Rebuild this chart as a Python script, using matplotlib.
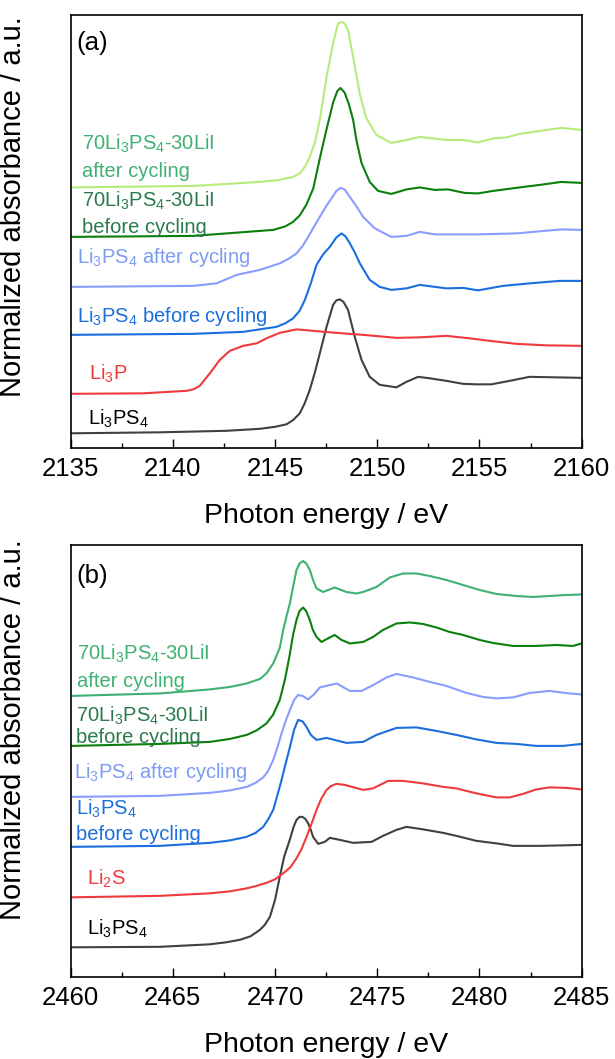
import matplotlib
matplotlib.use("Agg")
import matplotlib.pyplot as plt
from matplotlib.ticker import MultipleLocator

plt.rcParams.update({
    "font.family": ["Liberation Sans", "DejaVu Sans"],
    "mathtext.fontset": "custom",
    "mathtext.rm": "Liberation Sans",
    "mathtext.it": "Liberation Sans:italic",
    "mathtext.bf": "Liberation Sans:bold",
    "mathtext.default": "regular",
})

# ---------------- P K-edge XANES (panel a), offset spectra ----------------
p_li3ps4_E = [2135.0, 2139.37, 2142.63, 2144.26, 2145.0, 2145.56, 2145.9, 2146.21, 2146.45,
              2146.70, 2146.95, 2147.19, 2147.52, 2147.84, 2148.0, 2148.17, 2148.35, 2148.57,
              2148.90, 2149.23, 2149.63, 2150.12, 2150.94, 2151.43, 2152.0, 2152.57, 2153.38,
              2154.19, 2154.85, 2155.58, 2156.48, 2157.45, 2160.0]
p_li3ps4_A = [0.30, 0.32, 0.35, 0.39, 0.43, 0.48, 0.57, 0.70, 0.90,
              1.17, 1.52, 1.90, 2.43, 2.87, 2.96, 2.98, 2.93, 2.77,
              2.23, 1.77, 1.43, 1.27, 1.22, 1.33, 1.43, 1.40, 1.35,
              1.29, 1.28, 1.28, 1.35, 1.43, 1.41]

p_li3p_E = [2135.0, 2138.55, 2140.67, 2141.0, 2141.32, 2141.81, 2142.30, 2142.79, 2143.44,
            2144.10, 2144.58, 2145.23, 2146.05, 2146.86, 2148.01, 2149.31, 2150.94, 2152.08,
            2153.38, 2154.52, 2155.50, 2156.80, 2158.27, 2160.0]
p_li3p_A = [1.09, 1.10, 1.15, 1.18, 1.25, 1.50, 1.77, 1.95, 2.05,
            2.10, 2.20, 2.31, 2.38, 2.35, 2.31, 2.27, 2.21, 2.22,
            2.25, 2.20, 2.15, 2.09, 2.06, 2.05]

p_ps4_before_E = [2135.0, 2141.0, 2143.44, 2145.07, 2145.5, 2145.88, 2146.2, 2146.46, 2146.75,
                  2147.03, 2147.35, 2147.68, 2148.0, 2148.25, 2148.45, 2148.66, 2148.9, 2149.15,
                  2149.63, 2150.12, 2150.69, 2151.43, 2152.08, 2153.38, 2154.19, 2154.93, 2156.15,
                  2157.45, 2158.92, 2160.0]
p_ps4_before_A = [2.27, 2.29, 2.33, 2.43, 2.50, 2.60, 2.75, 2.97, 3.30,
                  3.67, 3.88, 4.03, 4.22, 4.30, 4.24, 4.10, 3.92, 3.70,
                  3.37, 3.23, 3.17, 3.20, 3.27, 3.20, 3.21, 3.16, 3.25,
                  3.30, 3.35, 3.35]

p_ps4_after_E = [2135.0, 2141.0, 2142.14, 2143.12, 2144.26, 2145.23, 2145.7, 2146.05, 2146.35,
                 2146.62, 2146.9, 2147.19, 2147.48, 2147.76, 2148.0, 2148.20, 2148.4, 2148.66,
                 2149.0, 2149.31, 2149.88, 2150.69, 2151.43, 2152.08, 2152.81, 2154.85, 2156.80,
                 2159.0, 2160.0]
p_ps4_after_A = [3.23, 3.25, 3.30, 3.47, 3.57, 3.70, 3.80, 3.90, 4.05,
                 4.23, 4.43, 4.63, 4.83, 5.00, 5.15, 5.21, 5.18, 5.03,
                 4.83, 4.63, 4.40, 4.23, 4.25, 4.33, 4.28, 4.28, 4.30,
                 4.38, 4.37]

p_lii_before_E = [2135.0, 2141.0, 2144.91, 2145.5, 2145.88, 2146.21, 2146.54, 2146.87, 2147.19,
                  2147.5, 2147.84, 2148.05, 2148.2, 2148.4, 2148.6, 2148.82, 2148.98, 2149.23,
                  2149.63, 2150.04, 2150.69, 2151.43, 2152.08, 2152.81, 2153.46, 2154.28, 2154.93,
                  2155.66, 2156.96, 2157.94, 2159.0, 2160.0]
p_lii_before_A = [4.23, 4.25, 4.37, 4.44, 4.53, 4.66, 4.88, 5.20, 5.80,
                  6.35, 6.92, 7.15, 7.21, 7.12, 6.90, 6.57, 6.17, 5.71,
                  5.33, 5.15, 5.09, 5.18, 5.22, 5.17, 5.18, 5.11, 5.10,
                  5.15, 5.22, 5.27, 5.33, 5.31]

p_lii_after_E = [2135.0, 2141.0, 2144.26, 2145.2, 2145.88, 2146.21, 2146.45, 2146.70, 2146.95,
                 2147.19, 2147.52, 2147.84, 2148.08, 2148.25, 2148.4, 2148.57, 2148.82, 2149.14,
                 2149.47, 2149.96, 2150.69, 2151.43, 2152.08, 2153.38, 2154.19, 2154.93, 2155.66,
                 2156.31, 2156.96, 2157.94, 2159.0, 2160.0]
p_lii_after_A = [5.22, 5.25, 5.33, 5.37, 5.43, 5.50, 5.63, 5.83, 6.12,
                 6.57, 7.43, 8.10, 8.50, 8.53, 8.50, 8.37, 7.83, 7.10,
                 6.60, 6.27, 6.11, 6.17, 6.23, 6.17, 6.17, 6.12, 6.20,
                 6.22, 6.29, 6.35, 6.41, 6.37]

# ---------------- S K-edge XANES (panel b), offset spectra ----------------
s_li3ps4_E = [2460.0, 2464.37, 2466.81, 2467.6, 2468.28, 2468.8, 2469.26, 2469.5, 2469.75,
              2470.0, 2470.23, 2470.45, 2470.72, 2470.9, 2471.05, 2471.2, 2471.34, 2471.48,
              2471.62, 2471.75, 2471.86, 2472.11, 2472.43, 2472.68, 2473.17, 2473.82, 2474.72,
              2475.28, 2475.94, 2476.43, 2477.24, 2478.22, 2478.87, 2479.85, 2480.83, 2481.64,
              2482.94, 2484.08, 2485.0]
s_li3ps4_A = [0.60, 0.61, 0.66, 0.70, 0.75, 0.82, 0.95, 1.05, 1.21,
              1.55, 2.01, 2.42, 2.75, 3.00, 3.15, 3.21, 3.21, 3.17,
              3.08, 2.95, 2.81, 2.67, 2.71, 2.79, 2.75, 2.69, 2.71,
              2.83, 2.95, 3.01, 2.96, 2.89, 2.83, 2.73, 2.68, 2.63,
              2.63, 2.64, 2.65]

s_li2s_E = [2460.0, 2464.37, 2466.81, 2467.8, 2468.61, 2469.1, 2469.58, 2470.0, 2470.40,
            2470.75, 2471.05, 2471.3, 2471.54, 2471.8, 2472.03, 2472.27, 2472.52, 2472.75,
            2473.01, 2473.41, 2474.31, 2474.79, 2475.53, 2476.26, 2477.24, 2478.22, 2478.87,
            2479.85, 2480.83, 2481.48, 2482.13, 2482.78, 2483.43, 2484.25, 2485.0]
s_li2s_A = [1.60, 1.63, 1.68, 1.72, 1.78, 1.83, 1.89, 1.96, 2.08,
            2.20, 2.38, 2.57, 2.81, 3.09, 3.35, 3.58, 3.75, 3.83,
            3.87, 3.85, 3.75, 3.78, 3.93, 3.93, 3.88, 3.81, 3.78,
            3.68, 3.60, 3.60, 3.67, 3.76, 3.80, 3.79, 3.76]

s_ps4_before_E = [2460.0, 2464.37, 2466.81, 2467.8, 2468.61, 2469.05, 2469.42, 2469.65, 2469.91,
                  2470.1, 2470.32, 2470.52, 2470.73, 2470.93, 2471.13, 2471.35, 2471.54, 2471.75,
                  2472.03, 2472.52, 2473.49, 2474.31, 2474.96, 2475.94, 2476.92, 2477.89, 2478.87,
                  2479.85, 2480.83, 2481.80, 2482.78, 2484.08, 2485.0]
s_ps4_before_A = [2.61, 2.63, 2.69, 2.74, 2.81, 2.89, 3.01, 3.15, 3.35,
                  3.62, 3.95, 4.28, 4.61, 4.95, 5.15, 5.12, 5.01, 4.85,
                  4.75, 4.79, 4.69, 4.71, 4.85, 4.99, 5.00, 4.93, 4.85,
                  4.76, 4.69, 4.67, 4.63, 4.63, 4.67]

s_ps4_after_E = [2460.0, 2464.37, 2466.81, 2467.8, 2468.61, 2469.05, 2469.42, 2469.65, 2469.91,
                 2470.1, 2470.32, 2470.52, 2470.73, 2470.93, 2471.13, 2471.35, 2471.62, 2471.9,
                 2472.19, 2473.01, 2473.66, 2474.23, 2474.81, 2475.45, 2475.94, 2476.75, 2477.57,
                 2478.38, 2479.36, 2480.17, 2480.83, 2481.64, 2482.45, 2483.43, 2484.40, 2485.0]
s_ps4_after_A = [3.61, 3.63, 3.69, 3.74, 3.81, 3.89, 4.00, 4.12, 4.35,
                 4.58, 4.88, 5.13, 5.35, 5.55, 5.65, 5.63, 5.56, 5.66,
                 5.80, 5.88, 5.73, 5.73, 5.85, 6.00, 6.07, 6.00, 5.91,
                 5.83, 5.69, 5.61, 5.58, 5.60, 5.69, 5.73, 5.68, 5.66]

s_lii_before_E = [2460.0, 2464.37, 2466.81, 2467.8, 2468.61, 2469.1, 2469.58, 2469.9, 2470.23,
                  2470.48, 2470.6, 2470.73, 2470.88, 2471.05, 2471.2, 2471.37, 2471.52, 2471.70,
                  2471.85, 2472.03, 2472.27, 2472.68, 2472.92, 2473.25, 2473.66, 2474.31, 2474.79,
                  2475.28, 2475.94, 2476.59, 2477.24, 2477.89, 2478.54, 2479.19, 2480.01, 2480.66,
                  2481.64, 2482.78, 2483.76, 2484.57, 2485.0]
s_lii_before_A = [4.63, 4.67, 4.71, 4.77, 4.85, 4.94, 5.08, 5.25, 5.55,
                  5.95, 6.20, 6.48, 6.85, 7.15, 7.33, 7.40, 7.33, 7.15,
                  6.95, 6.81, 6.71, 6.80, 6.85, 6.75, 6.68, 6.71, 6.81,
                  6.95, 7.08, 7.10, 7.07, 7.00, 6.91, 6.85, 6.75, 6.69,
                  6.63, 6.63, 6.65, 6.63, 6.68]

s_lii_after_E = [2460.0, 2464.37, 2466.81, 2467.8, 2468.61, 2469.26, 2469.58, 2469.91, 2470.23,
                 2470.40, 2470.56, 2470.73, 2470.9, 2471.05, 2471.2, 2471.37, 2471.53, 2471.70,
                 2471.86, 2472.03, 2472.35, 2472.92, 2473.49, 2473.98, 2474.31, 2474.96, 2475.61,
                 2476.26, 2476.92, 2477.57, 2478.38, 2479.19, 2480.01, 2480.83, 2481.80, 2482.61,
                 2483.43, 2484.25, 2485.0]
s_lii_after_A = [5.63, 5.68, 5.76, 5.81, 5.88, 5.97, 6.08, 6.28, 6.59,
                 6.95, 7.22, 7.49, 7.85, 8.15, 8.28, 8.33, 8.28, 8.15,
                 7.95, 7.78, 7.71, 7.80, 7.71, 7.68, 7.71, 7.81, 8.00,
                 8.08, 8.08, 8.03, 7.95, 7.85, 7.75, 7.67, 7.63, 7.61,
                 7.63, 7.65, 7.66]

# ---------------- labels ----------------
lbl_ps4 = r"Li$_3$PS$_4$"
lbl_li3p = r"Li$_3$P"
lbl_li2s = r"Li$_2$S"
lbl_lii = r"70Li$_3$PS$_4$-30LiI"

C_BLACK = "#404040"
C_RED = "#ef3a3d"
C_BLUE = "#1a6ede"
C_LBLUE = "#8b9cff"
C_LBLUE_TXT = "#7b9cf2"
C_DGREEN = "#0b7f0b"
C_DGREEN_TXT = "#2a7a4c"
C_LGREEN = "#b8ea7c"
C_MGREEN = "#3fb172"

W, H = 615, 1059
LEFT, RIGHT = 70.6, 581.7

fig = plt.figure(figsize=(W / 100, H / 100), dpi=100)


def make_axes(top, bottom):
    return fig.add_axes([LEFT / W, 1 - bottom / H, (RIGHT - LEFT) / W, (bottom - top) / H])


ax_a = make_axes(15.0, 448.3)
ax_b = make_axes(545.0, 977.3)

LINE = dict(lw=1.5, solid_joinstyle="round", solid_capstyle="round")
ax_a.plot(p_li3ps4_E, p_li3ps4_A, color=C_BLACK, **LINE)
ax_a.plot(p_li3p_E, p_li3p_A, color=C_RED, **LINE)
ax_a.plot(p_ps4_before_E, p_ps4_before_A, color=C_BLUE, **LINE)
ax_a.plot(p_ps4_after_E, p_ps4_after_A, color=C_LBLUE, **LINE)
ax_a.plot(p_lii_before_E, p_lii_before_A, color=C_DGREEN, **LINE)
ax_a.plot(p_lii_after_E, p_lii_after_A, color=C_LGREEN, **LINE)

ax_b.plot(s_li3ps4_E, s_li3ps4_A, color=C_BLACK, **LINE)
ax_b.plot(s_li2s_E, s_li2s_A, color=C_RED, **LINE)
ax_b.plot(s_ps4_before_E, s_ps4_before_A, color=C_BLUE, **LINE)
ax_b.plot(s_ps4_after_E, s_ps4_after_A, color=C_LBLUE, **LINE)
ax_b.plot(s_lii_before_E, s_lii_before_A, color=C_DGREEN, **LINE)
ax_b.plot(s_lii_after_E, s_lii_after_A, color=C_MGREEN, **LINE)

ax_a.set_xlim(2135, 2160)
ax_b.set_xlim(2460, 2485)
ax_a.set_ylim(0, 8.67)
ax_b.set_ylim(0, 8.65)

for ax, ylab_y in ((ax_a, 0.557), (ax_b, 0.572)):
    ax.xaxis.set_major_locator(MultipleLocator(5))
    ax.xaxis.set_minor_locator(MultipleLocator(2.5))
    ax.tick_params(axis="x", which="both", direction="in", top=False, labelsize=18.5, pad=6)
    ax.tick_params(axis="x", which="major", length=6.5, width=1.0)
    ax.tick_params(axis="x", which="minor", length=3.6, width=1.0)
    ax.set_yticks([])
    for s in ax.spines.values():
        s.set_linewidth(1.2)
    ax.set_xlabel("Photon energy / eV", fontsize=20.5, labelpad=16)
    ax.set_ylabel("Normalized absorbance / a.u.", fontsize=21)
    ax.yaxis.set_label_coords(-0.085, ylab_y)


def put(ax, top, bottom, px, py, text, color, size=14.5):
    """Place text with its baseline at pixel row py of the figure."""
    xa = (px - LEFT) / (RIGHT - LEFT)
    ya = (bottom - py) / (bottom - top)
    ax.text(xa, ya, text, color=color, fontsize=size, transform=ax.transAxes,
            ha="left", va="baseline")


A_T, A_B = 15.0, 448.3
put(ax_a, A_T, A_B, 76, 50, "(a)", "black", 18.5)
put(ax_a, A_T, A_B, 81.7, 150, lbl_lii, C_MGREEN)
put(ax_a, A_T, A_B, 81.7, 177, "after cycling", C_MGREEN)
put(ax_a, A_T, A_B, 81.7, 207, lbl_lii, C_DGREEN_TXT)
put(ax_a, A_T, A_B, 81.7, 233, "before cycling", C_DGREEN_TXT)
put(ax_a, A_T, A_B, 76.7, 263, lbl_ps4 + " after cycling", C_LBLUE_TXT)
put(ax_a, A_T, A_B, 76.7, 322, lbl_ps4 + " before cycling", C_BLUE)
put(ax_a, A_T, A_B, 89.3, 380, lbl_li3p, C_RED)
put(ax_a, A_T, A_B, 88.3, 425, lbl_ps4, "black")

B_T, B_B = 545.0, 977.3
put(ax_b, B_T, B_B, 76, 583, "(b)", "black", 18.5)
put(ax_b, B_T, B_B, 77.3, 660, lbl_lii, C_MGREEN)
put(ax_b, B_T, B_B, 77.3, 687, "after cycling", C_MGREEN)
put(ax_b, B_T, B_B, 76, 722, lbl_lii, C_DGREEN_TXT)
put(ax_b, B_T, B_B, 76, 743, "before cycling", C_DGREEN_TXT)
put(ax_b, B_T, B_B, 74, 778, lbl_ps4 + " after cycling", C_LBLUE_TXT)
put(ax_b, B_T, B_B, 76, 815, lbl_ps4, C_BLUE)
put(ax_b, B_T, B_B, 76, 840, "before cycling", C_BLUE)
put(ax_b, B_T, B_B, 86.7, 885, lbl_li2s, C_RED)
put(ax_b, B_T, B_B, 86.7, 935, lbl_ps4, "black")

fig.savefig("out.png", dpi=100, facecolor="white")
